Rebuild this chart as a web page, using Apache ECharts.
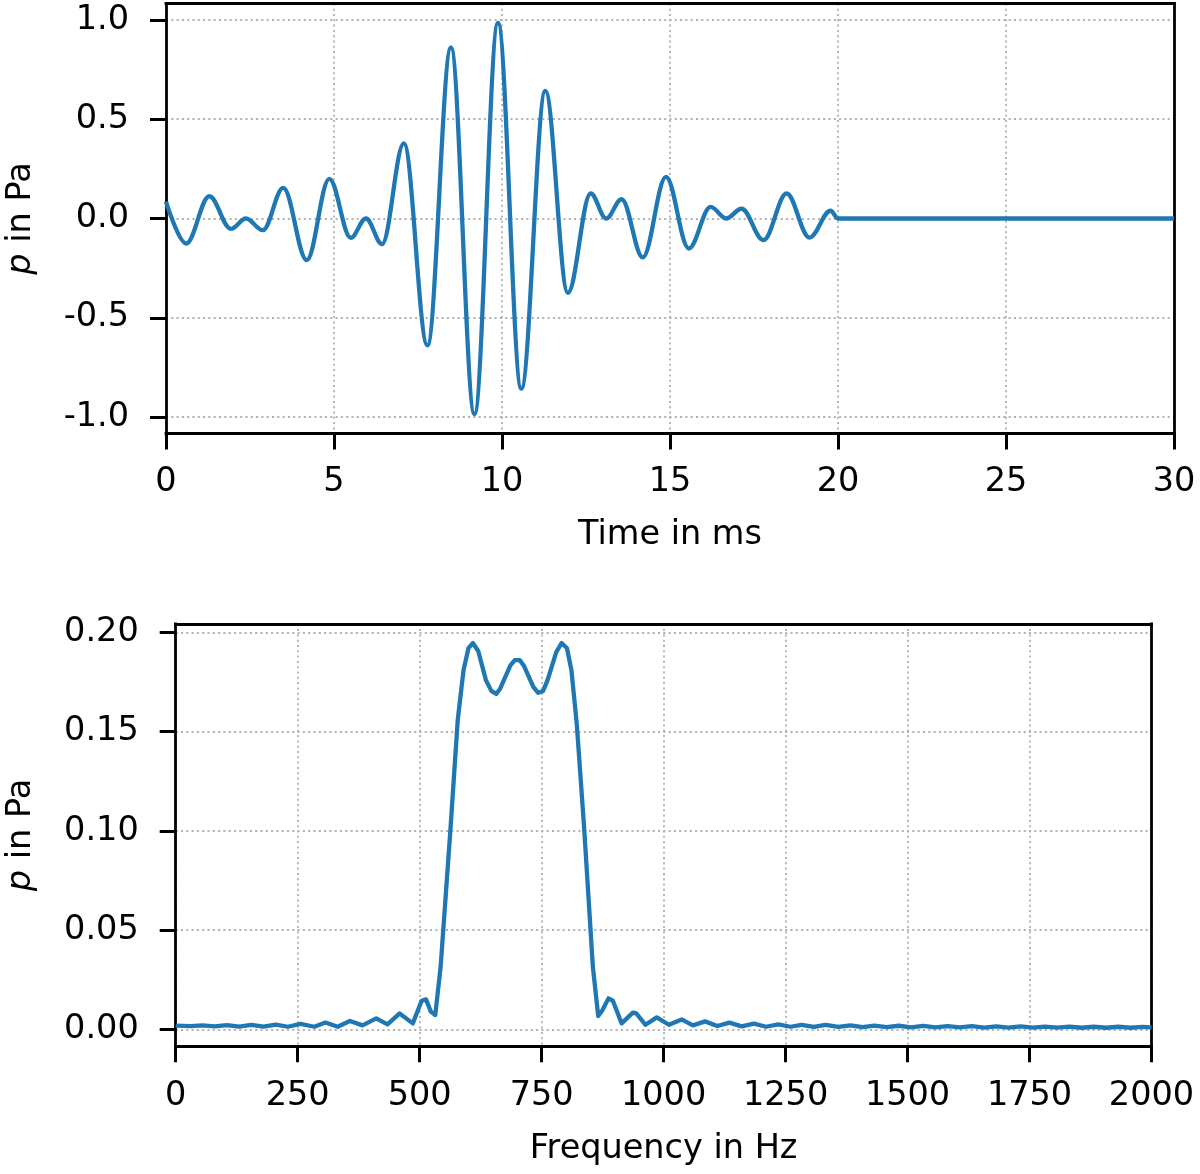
<!DOCTYPE html>
<html>
<head>
<meta charset="utf-8">
<script src="https://cdn.jsdelivr.net/npm/echarts@6/dist/echarts.min.js"></script>
<style>
html,body{margin:0;padding:0;background:#fff;overflow:hidden;}
#chart{width:1200px;height:1174px;}
</style>
</head>
<body>
<div id="chart"></div>
<script>
// ---- Data ----
// Time signal (extrema of the waveform), time in ms
const timeMs = [0.00, 0.60, 1.29, 1.93, 2.38, 2.88, 3.49, 4.19, 4.86, 5.50, 5.95, 6.43, 7.08, 7.78, 8.48, 9.18, 9.88, 10.575, 11.29, 11.96, 12.64, 13.10, 13.56, 14.19, 14.88, 15.56, 16.21, 16.67, 17.13, 17.78, 18.47, 19.15, 19.78, 20.00, 30.00];
const pressure = [0.085, -0.126, 0.112, -0.052, 0.000, -0.059, 0.154, -0.210, 0.200, -0.097, 0.000, -0.129, 0.378, -0.639, 0.861, -0.985, 0.985, -0.857, 0.643, -0.374, 0.126, 0.000, 0.097, -0.196, 0.210, -0.151, 0.059, 0.000, 0.049, -0.109, 0.126, -0.096, 0.039, 0.000, 0.000];

// Spectrum, frequency in Hz
const freqHz = [0, 30, 55, 80, 105, 130, 155, 180, 205, 230, 256, 284, 307, 332, 357, 383, 411, 434, 459, 486, 504, 513, 523, 532, 543, 563, 578, 590, 600, 609, 620, 636, 647, 657, 665, 686, 695, 705, 714, 733, 743, 753, 762, 780, 791, 802, 811, 822, 837, 855, 866, 874, 887, 896, 914, 937, 944, 963, 986, 1011, 1037, 1060, 1085, 1110, 1135, 1160, 1185, 1210, 1235, 1260, 1283, 1308, 1332, 1358, 1383, 1408, 1432, 1457, 1482, 1507, 1532, 1557, 1582, 1607, 1632, 1657, 1682, 1707, 1732, 1757, 1782, 1807, 1832, 1857, 1882, 1907, 1932, 1957, 1982, 2000];
const spectrum = [0.0019, 0.0016, 0.0020, 0.0015, 0.0021, 0.0014, 0.0022, 0.0014, 0.0024, 0.0013, 0.0027, 0.0013, 0.0034, 0.0013, 0.0042, 0.0020, 0.0055, 0.0025, 0.0080, 0.0030, 0.0144, 0.0151, 0.0089, 0.0072, 0.0315, 0.1003, 0.1557, 0.1810, 0.1920, 0.1946, 0.1906, 0.1758, 0.1705, 0.1690, 0.1716, 0.1834, 0.1860, 0.1860, 0.1830, 0.1725, 0.1695, 0.1705, 0.1758, 0.1900, 0.1946, 0.1920, 0.1810, 0.1540, 0.1020, 0.0315, 0.0067, 0.0094, 0.0156, 0.0144, 0.0030, 0.0084, 0.0080, 0.0023, 0.0060, 0.0023, 0.0050, 0.0020, 0.0040, 0.0017, 0.0034, 0.0015, 0.0029, 0.0013, 0.0025, 0.0013, 0.0023, 0.0012, 0.0022, 0.0012, 0.0020, 0.0011, 0.0019, 0.0011, 0.0018, 0.0010, 0.0017, 0.0010, 0.0016, 0.0010, 0.0016, 0.0009, 0.0015, 0.0009, 0.0015, 0.0009, 0.0014, 0.0009, 0.0014, 0.0008, 0.0013, 0.0008, 0.0013, 0.0008, 0.0012, 0.0010];

// Tick values
const timeYTicks = [-1.0, -0.5, 0.0, 0.5, 1.0];
const freqYTicks = [0.00, 0.05, 0.10, 0.15, 0.20];

// ---- Chart ----
const FONT = 'DejaVu Sans';
const FS = 33.5;
const BLUE = '#1f77b4';
const chart = echarts.init(document.getElementById('chart'), null, {renderer: 'canvas'});

const splitLine = {show: true, lineStyle: {color: '#b0b0b0', width: 1.8, type: [2, 3.3]}};
const tick = {show: true, inside: false, length: 16, lineStyle: {color: '#000', width: 3}};
const labelBase = {color: '#000', fontFamily: FONT, fontSize: FS};
const nameStyle = {color: '#000', fontFamily: FONT, fontSize: FS, rich: {i: {fontStyle: 'italic', fontFamily: FONT, fontSize: FS, color: '#000'}}};
const spine = {show: true, onZero: false, lineStyle: {color: '#000', width: 2.8, cap: 'square'}};

// frame-only axes (top / right spines)
function frameAxis(gridIndex, position, min, max) {
  return {
    gridIndex: gridIndex, type: 'value', position: position, min: min, max: max,
    axisLine: spine, axisTick: {show: false}, axisLabel: {show: false}, splitLine: {show: false}
  };
}

chart.setOption({
  animation: false,
  backgroundColor: '#fff',
  grid: [
    {left: 166, top: 3.4, width: 1008, height: 430.2, show: false, containLabel: false, outerBoundsMode: 'none'},
    {left: 175.7, top: 623.8, width: 975.8, height: 422.4, show: false, containLabel: false, outerBoundsMode: 'none'}
  ],
  xAxis: [
    {
      gridIndex: 0, type: 'value', position: 'bottom', min: 0, max: 30, interval: 5,
      axisLine: spine, axisTick: tick, splitLine: splitLine,
      axisLabel: Object.assign({}, labelBase, {margin: 32, formatter: v => String(v)}),
      name: 'Time in ms', nameLocation: 'middle', nameGap: 85, nameTextStyle: nameStyle
    },
    {
      gridIndex: 1, type: 'value', position: 'bottom', min: 0, max: 2000, interval: 250,
      axisLine: spine, axisTick: tick, splitLine: splitLine,
      axisLabel: Object.assign({}, labelBase, {margin: 33, formatter: v => String(v)}),
      name: 'Frequency in Hz', nameLocation: 'middle', nameGap: 86, nameTextStyle: nameStyle
    },
    frameAxis(0, 'top', 0, 30),
    frameAxis(1, 'top', 0, 2000)
  ],
  yAxis: [
    {
      gridIndex: 0, type: 'value', position: 'left', min: -1.0835, max: 1.0835,
      axisLine: spine,
      axisTick: Object.assign({}, tick, {customValues: timeYTicks}),
      splitLine: splitLine,
      axisLabel: Object.assign({}, labelBase, {margin: 37, customValues: timeYTicks, formatter: v => v.toFixed(1)}),
      name: '{i|p} in Pa', nameLocation: 'middle', nameGap: 128, nameTextStyle: nameStyle
    },
    {
      gridIndex: 1, type: 'value', position: 'left', min: -0.0085, max: 0.2043,
      axisLine: spine,
      axisTick: Object.assign({}, tick, {customValues: freqYTicks}),
      splitLine: splitLine,
      axisLabel: Object.assign({}, labelBase, {margin: 37, customValues: freqYTicks, formatter: v => v.toFixed(2)}),
      name: '{i|p} in Pa', nameLocation: 'middle', nameGap: 137.7, nameTextStyle: nameStyle
    },
    frameAxis(0, 'right', -1.0835, 1.0835),
    frameAxis(1, 'right', -0.0085, 0.2043)
  ],
  series: [
    {
      type: 'line', xAxisIndex: 0, yAxisIndex: 0,
      data: timeMs.map((t, i) => [t, pressure[i]]),
      smooth: 0.36, smoothMonotone: 'x',
      showSymbol: false, symbol: 'none',
      lineStyle: {color: BLUE, width: 4.3}, z: 3
    },
    {
      type: 'line', xAxisIndex: 1, yAxisIndex: 1,
      data: freqHz.map((f, i) => [f, spectrum[i]]),
      smooth: false,
      showSymbol: false, symbol: 'none',
      lineStyle: {color: BLUE, width: 4.3, join: 'round'}, z: 3
    }
  ]
});
</script>
</body>
</html>
